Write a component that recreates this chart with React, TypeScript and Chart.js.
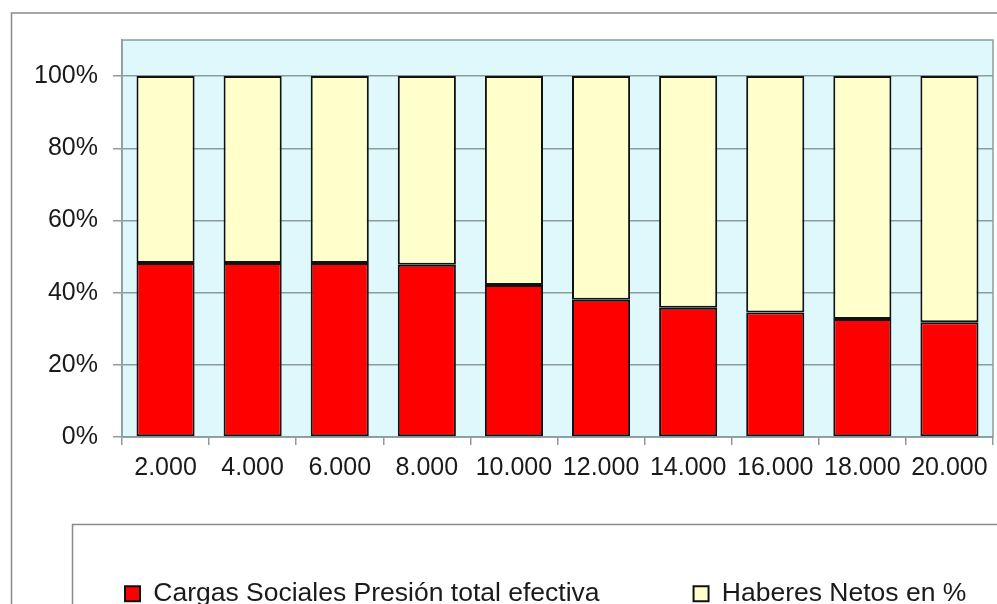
import React, { useEffect, useRef } from "react";
import { Chart, registerables } from "chart.js";

Chart.register(...registerables);

const categories = ["2.000", "4.000", "6.000", "8.000", "10.000", "12.000", "14.000", "16.000", "18.000", "20.000"];
const cargasSociales = [48.2, 48.2, 48.2, 47.7, 42.1, 38.0, 35.8, 34.5, 32.7, 31.8];
const haberesNetos = [51.8, 51.8, 51.8, 52.3, 57.9, 62.0, 64.2, 65.5, 67.3, 68.2];
const seriesNames = ["Cargas Sociales Presión total efectiva", "Haberes Netos en %"];
const yTickStep = 20;
const yMax = 110;

const W = 1100;
const H = 617;
const GRID = "#8c9c9c";
const TEXT = "#1a1a1a";
const LEGEND_PAD = 94;

const framePlugin = {
  id: "frames",
  beforeDraw(chart: any) {
    const { ctx, chartArea: a } = chart;
    ctx.save();
    ctx.fillStyle = "#ffffff";
    ctx.fillRect(0, 0, chart.width, chart.height);
    ctx.strokeStyle = "#8a8a8a";
    ctx.lineWidth = 1.5;
    ctx.strokeRect(11.5, 13, 1000, 700);
    ctx.strokeRect(72.5, 524.5, 1000, 300);
    ctx.fillStyle = "#dff8fc";
    ctx.fillRect(a.left, a.top, a.right - a.left, a.bottom - a.top);
    ctx.strokeStyle = GRID;
    ctx.lineWidth = 1.5;
    ctx.strokeRect(a.left, a.top, a.right - a.left, a.bottom - a.top);
    ctx.restore();
  },
};

export default function App() {
  const ref = useRef<HTMLCanvasElement | null>(null);
  useEffect(() => {
    if (!ref.current) return;
    Chart.defaults.font.family = "'Liberation Sans', Arial, sans-serif";
    Chart.defaults.font.size = 25;
    Chart.defaults.color = TEXT;
    const chart = new Chart(ref.current, {
      type: "bar",
      data: {
        labels: categories,
        datasets: [
          {
            label: seriesNames[0],
            data: cargasSociales,
            backgroundColor: "#ff0000",
            borderColor: "#111111",
            borderWidth: 2,
            borderSkipped: false,
            barPercentage: 0.667,
            categoryPercentage: 1,
          },
          {
            label: seriesNames[1],
            data: haberesNetos,
            backgroundColor: "#ffffcc",
            borderColor: "#111111",
            borderWidth: 2,
            borderSkipped: false,
            barPercentage: 0.667,
            categoryPercentage: 1,
          },
        ],
      },
      options: {
        responsive: false,
        animation: false,
        layout: { padding: { left: 125 - LEGEND_PAD, top: 40, right: 0, bottom: 0 } },
        plugins: {
          legend: {
            position: "bottom",
            align: "start",
            labels: {
              boxWidth: 15,
              boxHeight: 15,
              padding: LEGEND_PAD,
              color: TEXT,
              font: { size: 26.5 },
            },
          },
          tooltip: { enabled: false },
        },
        scales: {
          x: {
            stacked: true,
            grid: {
              offset: true,
              drawOnChartArea: false,
              drawTicks: true,
              tickLength: 8,
              color: GRID,
              lineWidth: 1.5,
            },
            border: { color: GRID, width: 1.5 },
            ticks: {
              maxRotation: 0,
              minRotation: 0,
              autoSkip: false,
              padding: 8,
              color: TEXT,
              font: { size: 25 },
            },
            afterFit: (s: any) => {
              s.height = 49.5;
            },
          },
          y: {
            stacked: true,
            min: 0,
            max: yMax,
            grid: { color: GRID, lineWidth: 1.5, tickLength: 9 },
            border: { color: GRID, width: 1.5 },
            ticks: {
              stepSize: yTickStep,
              includeBounds: false,
              padding: 15,
              color: TEXT,
              font: { size: 25 },
              callback: (v: any) => v + "%",
            },
            afterFit: (s: any) => {
              s.width = 122 - (125 - LEGEND_PAD);
            },
          },
          yR: {
            position: "right",
            display: true,
            grid: { display: false },
            border: { display: false },
            ticks: { display: false },
            afterFit: (s: any) => {
              s.width = W - 993;
            },
          },
        },
      } as any,
      plugins: [framePlugin],
    });
    return () => chart.destroy();
  }, []);
  return (
    <div
      style={{
        position: "absolute",
        left: 0,
        top: 0,
        width: 997,
        height: 604,
        overflow: "hidden",
        background: "#fff",
      }}
    >
      <canvas ref={ref} width={W} height={H} />
    </div>
  );
}
